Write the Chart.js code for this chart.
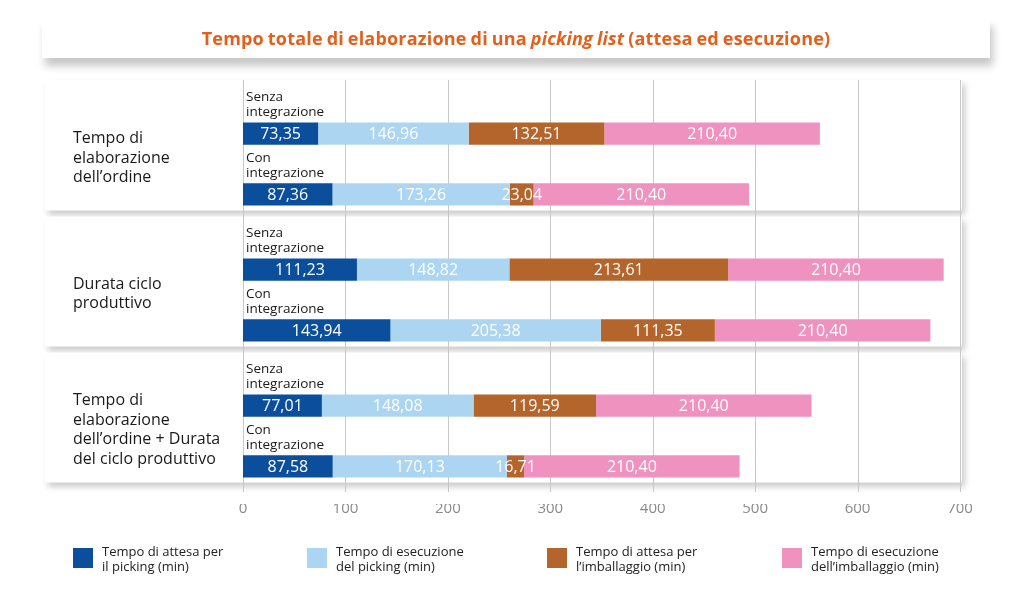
<!DOCTYPE html>
<html><head><meta charset="utf-8">
<script src="https://cdn.jsdelivr.net/npm/chart.js@4.4.1/dist/chart.umd.min.js"></script>
<style>
html,body{margin:0;padding:0;background:#fff;width:1024px;height:594px;overflow:hidden;font-family:"Open Sans",sans-serif;}
#wrap{position:relative;width:1024px;height:594px;}
#c{position:absolute;left:0;top:0;}
#title{position:absolute;left:42px;top:18px;width:948px;height:40px;background:#fff;box-shadow:3px 8px 8px rgba(0,0,0,0.22);text-align:center;line-height:40px;font-weight:700;font-size:18px;color:#E4601A;letter-spacing:0.2px;word-spacing:-1px;}
.item{position:absolute;top:548px;}
.sw{position:absolute;left:0;top:0;width:20px;height:20px;}
.lt{position:absolute;left:29px;top:-4px;font-size:13px;line-height:15px;color:#222;white-space:nowrap;}
</style></head>
<body><div id="wrap"><canvas id="c" width="1024" height="594"></canvas>
<div id="title">Tempo totale di elaborazione di una <i>picking list</i> (attesa ed esecuzione)</div>
<div id="legend"></div></div>
<script>
const groupLabels = [["Tempo di","elaborazione","dell’ordine"],["Durata ciclo","produttivo"],["Tempo di","elaborazione","dell’ordine + Durata","del ciclo produttivo"]];
const stackLabels = [["Senza","integrazione"],["Con","integrazione"]];
const seriesNames = [["Tempo di attesa per","il picking (min)"],["Tempo di esecuzione","del picking (min)"],["Tempo di attesa per","l’imballaggio (min)"],["Tempo di esecuzione","dell’imballaggio (min)"]];
const seriesColors = ["#0B4F9C","#ACD5F2","#B3652C","#EF92BF"];
const waitPickingSenza = [73.35,111.23,77.01];
const waitPickingCon   = [87.36,143.94,87.58];
const execPickingSenza = [146.96,148.82,148.08];
const execPickingCon   = [173.26,205.38,170.13];
const waitPackSenza    = [132.51,213.61,119.59];
const waitPackCon      = [23.04,111.35,16.71];
const execPackSenza    = [210.40,210.40,210.40];
const execPackCon      = [210.40,210.40,210.40];
const xTickValues = [0,100,200,300,400,500,600,700];

const senza = [waitPickingSenza, execPickingSenza, waitPackSenza, execPackSenza];
const con = [waitPickingCon, execPickingCon, waitPackCon, execPackCon];
const stacks = [senza, con];
const datasets = [];
stacks.forEach((st, si) => st.forEach((arr, k) => datasets.push({
  label: seriesNames[k].join(' '), data: arr, backgroundColor: seriesColors[k],
  stack: 's' + si, borderWidth: 0
})));

// legend
const lg = document.getElementById('legend');
const lgX = [73, 307, 547, 782];
seriesNames.forEach((n, k) => {
  const d = document.createElement('div'); d.className = 'item'; d.style.left = lgX[k] + 'px';
  d.innerHTML = '<div class="sw" style="background:' + seriesColors[k] + '"></div><div class="lt">' + n[0] + '<br>' + n[1] + '</div>';
  lg.appendChild(d);
});

const FONT = '"Open Sans", sans-serif';
const fmt = v => v.toFixed(2).replace('.', ',');

const panels = {
  id: 'panels',
  beforeDraw(chart) {
    const ctx = chart.ctx, ca = chart.chartArea;
    const metaCon = chart.getDatasetMeta(4);
    let top = ca.top - 16;
    ctx.save();
    metaCon.data.forEach((el, i) => {
      const bottom = el.y + el.height / 2 + 5;
      ctx.shadowColor = 'rgba(0,0,0,0.2)'; ctx.shadowBlur = 6; ctx.shadowOffsetX = 3; ctx.shadowOffsetY = 4;
      ctx.fillStyle = '#fff';
      ctx.fillRect(45, top, 917, bottom - top);
      top = bottom + 6;
    });
    ctx.restore();
  },
  beforeDatasetsDraw(chart) {
    const ctx = chart.ctx, ca = chart.chartArea, xs = chart.scales.x;
    ctx.save(); ctx.strokeStyle = '#c8c8c8'; ctx.lineWidth = 1;
    xTickValues.forEach(v => {
      const x = Math.round(xs.getPixelForValue(v)) + 0.5;
      ctx.beginPath(); ctx.moveTo(x, ca.top - 16); ctx.lineTo(x, ca.bottom - 12); ctx.stroke();
    });
    ctx.restore();
  },
  afterDatasetsDraw(chart) {
    const ctx = chart.ctx, xs = chart.scales.x;
    ctx.save();
    ctx.textBaseline = 'middle';
    ctx.fillStyle = '#fff'; ctx.textAlign = 'center'; ctx.font = '500 16px ' + FONT;
    chart.data.datasets.forEach((ds, di) => {
      chart.getDatasetMeta(di).data.forEach((el, i) => {
        ctx.fillText(fmt(ds.data[i]), (el.x + el.base) / 2, el.y + 1);
      });
    });
    ctx.fillStyle = '#1a1a1a'; ctx.textAlign = 'left'; ctx.font = '13.5px ' + FONT;
    stackLabels.forEach((lines, si) => {
      chart.getDatasetMeta(si * 4).data.forEach(el => {
        const t = el.y - el.height / 2;
        const x0 = xs.getPixelForValue(0) + 3;
        ctx.fillText(lines[0], x0, t - 25);
        ctx.fillText(lines[1], x0, t - 10);
      });
    });
    ctx.restore();
  }
};

new Chart(document.getElementById('c'), {
  type: 'bar',
  data: { labels: groupLabels, datasets },
  options: {
    indexAxis: 'y', responsive: false, animation: false,
    layout: { padding: { left: 73, right: 64, top: 96, bottom: 70 } },
    plugins: { legend: { display: false }, tooltip: { enabled: false } },
    datasets: { bar: { categoryPercentage: 0.895, barPercentage: 0.365 } },
    scales: {
      x: { stacked: true, min: 0, max: 700,
        grid: { display: false, drawTicks: false }, border: { display: false },
        afterBuildTicks: s => { s.ticks = xTickValues.map(v => ({ value: v })); },
        afterFit: s => { s.height = 20; },
        ticks: { padding: -4, color: '#8a8a8a', font: { family: FONT, size: 15, weight: '400' } } },
      y: { stacked: true,
        grid: { display: false, drawTicks: false }, border: { display: false },
        afterFit: s => { s.width = 170; },
        ticks: { crossAlign: 'far', labelOffset: -6, color: '#1a1a1a', font: { family: FONT, size: 16, lineHeight: 1.22 } } }
    }
  },
  plugins: [panels]
});
</script></body></html>
